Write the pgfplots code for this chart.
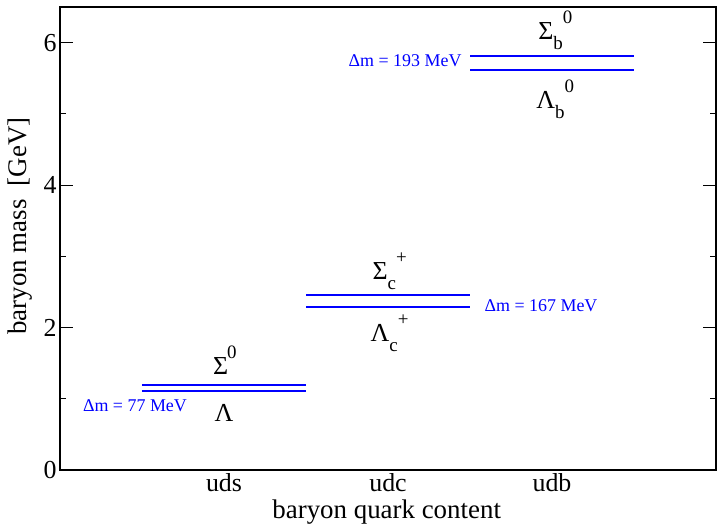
\documentclass[border=0pt]{standalone}
\usepackage{fontspec}
\setmainfont{Liberation Serif}
\usepackage{pgfplots}
\pgfplotsset{compat=1.18}
\definecolor{lvl}{RGB}{0,0,255}
\newcommand{\lsub}[1]{\raisebox{-10bp}{\fontsize{19}{19}\selectfont #1}}
\newcommand{\lsup}[1]{\raisebox{16bp}{\fontsize{19}{19}\selectfont #1}}
\begin{document}
\begin{tikzpicture}
\begin{axis}[
  scale only axis, width=656bp, height=463bp,
  xmin=0, xmax=4, ymin=0, ymax=6.5,
  xtick={1,2,3}, xticklabels={uds,udc,udb},
  ytick={0,2,4,6}, minor ytick={1,3,5},
  tick align=inside,
  major tick length=13bp, minor tick length=6bp,
  xtick style={draw=none},
  ytick style={black, line width=0.8bp},
  axis line style={line width=1.2bp},
  /pgf/number format/assume math mode=true,
  tick label style={font=\fontsize{26}{30}\selectfont},
  label style={font=\fontsize{27}{32}\selectfont},
  xlabel={baryon quark content},
  ylabel={baryon mass\ \ [GeV]},
  xlabel style={at={(axis description cs:0.498,-0.104)}, anchor=base},
  ylabel style={at={(axis description cs:-0.061,0.527)}, anchor=center},
  clip=false,
]
\addplot[draw=lvl, line width=2bp, mark=none] coordinates {(0.5,1.1926) (1.5,1.1926)};
\addplot[draw=lvl, line width=2bp, mark=none] coordinates {(0.5,1.1157) (1.5,1.1157)};
\addplot[draw=lvl, line width=2bp, mark=none] coordinates {(1.5,2.4529) (2.5,2.4529)};
\addplot[draw=lvl, line width=2bp, mark=none] coordinates {(1.5,2.2865) (2.5,2.2865)};
\addplot[draw=lvl, line width=2bp, mark=none] coordinates {(2.5,5.8126) (3.5,5.8126)};
\addplot[draw=lvl, line width=2bp, mark=none] coordinates {(2.5,5.6196) (3.5,5.6196)};
\begin{scope}[every node/.style={font=\fontsize{26}{30}\selectfont, anchor=base}]
\node at (axis cs:1.005,1.334) {Σ\kern-1bp\lsup{0}};
\node at (axis cs:1.0,0.674) {Λ};
\node at (axis cs:2.01,2.67) {Σ\lsub{c}\lsup{+}};
\node at (axis cs:2.01,1.80) {Λ\lsub{c}\lsup{+}};
\node at (axis cs:3.02,6.04) {Σ\lsub{b}\lsup{0}};
\node at (axis cs:3.02,5.08) {Λ\lsub{b}\lsup{0}};
\end{scope}
\begin{scope}[every node/.style={font=\fontsize{18}{20}\selectfont, anchor=base, text=lvl}]
\node at (axis cs:0.457,0.82) {Δm = 77 MeV};
\node at (axis cs:2.933,2.22) {Δm = 167 MeV};
\node at (axis cs:2.104,5.667) {Δm = 193 MeV};
\end{scope}
\end{axis}
\pgfresetboundingbox
\path ([xshift=-60bp,yshift=-57bp]current axis.south west) rectangle ([xshift=1bp,yshift=7bp]current axis.north east);
\end{tikzpicture}
\end{document}
